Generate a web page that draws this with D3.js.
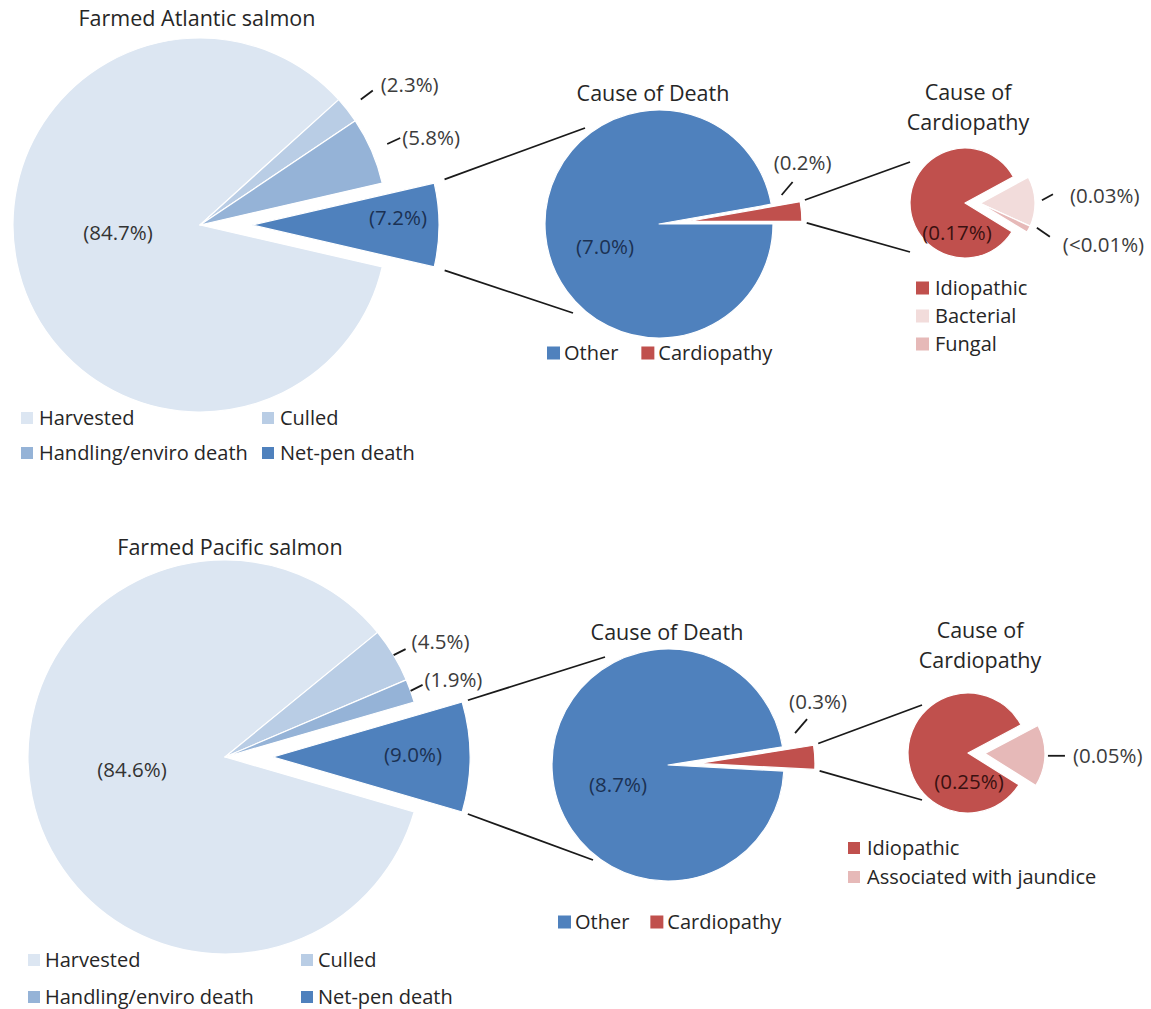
<!DOCTYPE html>
<html>
<head>
<meta charset="utf-8">
<script src="https://cdn.jsdelivr.net/npm/d3@7"></script>
<style>
  html, body { margin: 0; padding: 0; background: #fff; }
  svg { display: block; font-family: "Open Sans", "Noto Sans", sans-serif; }
</style>
</head>
<body>
<svg id="chart" width="1151" height="1009"></svg>
<script>
// ---------- data ----------
const atlanticCategories = ["Harvested", "Culled", "Handling/enviro death", "Net-pen death"];
const atlanticValues = [84.7, 2.3, 5.8, 7.2];
const atlanticDeathCategories = ["Other", "Cardiopathy"];
const atlanticDeathValues = [7.0, 0.2];
const atlanticCardioCategories = ["Idiopathic", "Bacterial", "Fungal"];
const atlanticCardioValues = [0.17, 0.03, 0.004];

const pacificCategories = ["Harvested", "Culled", "Handling/enviro death", "Net-pen death"];
const pacificValues = [84.6, 4.5, 1.9, 9.0];
const pacificDeathCategories = ["Other", "Cardiopathy"];
const pacificDeathValues = [8.7, 0.3];
const pacificCardioCategories = ["Idiopathic", "Associated with jaundice"];
const pacificCardioValues = [0.25, 0.05];

// ---------- colours ----------
const fateColors = ["#dce6f2", "#b9cde5", "#95b3d7", "#4f81bd"];
const deathColors = ["#4f81bd", "#c0504d"];
const atlanticCardioColors = ["#c0504d", "#f2dcdb", "#e6b9b8"];
const pacificCardioColors = ["#c0504d", "#e6b9b8"];

const TEXT = "#262626";
const LABEL = "#3c3c3c";
const LINE = "#1a1a1a";

// ---------- layout ----------
const rows = [
  {
    title: "Farmed Atlantic salmon", titlePos: [197, 18],
    fate: {
      categories: atlanticCategories, values: atlanticValues, colors: fateColors, digits: 1,
      cx: 200, cy: 225, r: 187, detached: 1, dir: 90, explode: 52,
      inside: { 0: { off: [-82, 8], color: "#333333" }, 3: { off: [146, -7], color: "#1b3153" } },
      callouts: [
        { i: 1, dist: 17, leader: [12, -9], text: [8, -6] },
        { i: 2, dist: 17, leader: [13, -6], text: [2, 0] }
      ],
      legend: { x: 21, y: 418, cols: 2, colW: 241, rowH: 35, sq: 12, gap: 6 }
    },
    death: {
      categories: atlanticDeathCategories, values: atlanticDeathValues, colors: deathColors, digits: 1,
      cx: 659, cy: 224, r: 114, detached: 1, dir: 85, explode: 29,
      title: ["Cause of Death"], titlePos: [653, 93],
      inside: { 0: { off: [-54, 23], color: "#1b3153" } },
      callouts: [{ i: 1, angle: 76.7, dist: 12, leader: [11, -13], text: [10, -19], anchor: "middle" }],
      legend: { flow: true, x: 547, y: 353, sq: 13, gap: 4, itemGap: 23 }
    },
    cardio: {
      categories: atlanticCardioCategories, values: atlanticCardioValues, colors: atlanticCardioColors, digits: 2,
      cx: 965, cy: 203, r: 55, detached: 2, dir: 91.5, explode: 15,
      title: ["Cause of", "Cardiopathy"], titlePos: [968, 92], titleLineH: 30,
      inside: { 0: { off: [-8, 30], color: "#3a1111" } },
      callouts: [
        { i: 1, dist: 22, leader: [11, -6], text: [17, 2] },
        { i: 2, angle: 109, dist: 21, leader: [13, 9], text: [13, 8] }
      ],
      legend: { x: 916, y: 288, cols: 1, rowH: 28, sq: 13, gap: 6 }
    },
    links: {
      fateToDeath: { gap: 11, ends: [[-74, -96], [-86, 89]] },
      deathToCardio: { gap: 5, ends: [[-55, -41], [-55, 49]] }
    }
  },
  {
    title: "Farmed Pacific salmon", titlePos: [230, 547],
    fate: {
      categories: pacificCategories, values: pacificValues, colors: fateColors, digits: 1,
      cx: 225, cy: 757, r: 197, detached: 1, dir: 90, explode: 48,
      inside: { 0: { off: [-93, 13], color: "#333333" }, 3: { off: [140, -2], color: "#1b3153" } },
      callouts: [
        { i: 1, dist: 0, leader: [12, -6], text: [6, -7] },
        { i: 2, dist: 0, leader: [12, -6], text: [2, -5] }
      ],
      legend: { x: 28, y: 960, cols: 2, colW: 273, rowH: 37, sq: 12, gap: 5 }
    },
    death: {
      categories: pacificDeathCategories, values: pacificDeathValues, colors: deathColors, digits: 1,
      cx: 668, cy: 765, r: 116, detached: 1, dir: 87, explode: 31,
      title: ["Cause of Death"], titlePos: [667, 632],
      inside: { 0: { off: [-50, 20], color: "#1b3153" } },
      callouts: [{ i: 1, angle: 75.9, dist: 15, leader: [12, -14], text: [11, -17], anchor: "middle" }],
      legend: { flow: true, x: 558, y: 922, sq: 13, gap: 4, itemGap: 21 }
    },
    cardio: {
      categories: pacificCardioCategories, values: pacificCardioValues, colors: pacificCardioColors, digits: 2,
      cx: 968, cy: 753, r: 60, detached: 1, dir: 92, explode: 17,
      title: ["Cause of", "Cardiopathy"], titlePos: [980, 630], titleLineH: 30,
      inside: { 0: { off: [1, 29], color: "#3a1111" } },
      callouts: [{ i: 1, dist: 20, leader: [17, 0], text: [8, 0] }],
      legend: { x: 848, y: 848, cols: 1, rowH: 29, sq: 12, gap: 7 }
    },
    links: {
      fateToDeath: { gap: 6, ends: [[-63, -108], [-75, 95]] },
      deathToCardio: { gap: 5, ends: [[-46, -48], [-46, 47]] }
    }
  }
];

const svg = d3.select("#chart");
const rad = deg => deg * Math.PI / 180;
const pctLabel = (v, digits) => v < 0.01 ? "(<0.01%)" : `(${v.toFixed(digits)}%)`;

// Pie with its trailing slices pulled out along direction `dir`
function drawPie(g, p) {
  const n = p.values.length;
  const total = d3.sum(p.values);
  const detSpan = d3.sum(p.values.slice(n - p.detached)) / total * 2 * Math.PI;
  const dir = rad(p.dir);
  const start = dir + detSpan / 2;
  const arcs = d3.pie().sort(null).value(d => d)
    .startAngle(start).endAngle(start + 2 * Math.PI)(p.values);
  const shift = [p.explode * Math.sin(dir), -p.explode * Math.cos(dir)];
  const arc = d3.arc().innerRadius(0).outerRadius(p.r);
  const isDet = i => i >= n - p.detached;

  const pg = g.append("g").attr("transform", `translate(${p.cx},${p.cy})`);
  pg.selectAll("path").data(arcs).join("path")
    .attr("d", arc)
    .attr("fill", (d, i) => p.colors[i])
    .attr("stroke", "#fff")
    .attr("stroke-width", 1.2)
    .attr("stroke-linejoin", "round")
    .attr("transform", (d, i) => isDet(i) ? `translate(${shift[0]},${shift[1]})` : null);

  // labels inside slices
  Object.entries(p.inside).forEach(([k, lab]) => {
    const i = +k;
    const base = isDet(i) ? shift : [0, 0];
    pg.append("text")
      .attr("x", base[0] + lab.off[0])
      .attr("y", base[1] + lab.off[1])
      .attr("dy", "0.35em")
      .attr("text-anchor", "middle")
      .attr("font-size", 20.5)
      .attr("fill", lab.color)
      .text(pctLabel(p.values[i], p.digits));
  });

  // labels outside slices, with short leader lines
  p.callouts.forEach(c => {
    const a = c.angle !== undefined ? rad(c.angle) : (arcs[c.i].startAngle + arcs[c.i].endAngle) / 2;
    const d = p.r + c.dist;
    const s = [d * Math.sin(a), -d * Math.cos(a)];
    const e = [s[0] + c.leader[0], s[1] + c.leader[1]];
    pg.append("line")
      .attr("x1", s[0]).attr("y1", s[1]).attr("x2", e[0]).attr("y2", e[1])
      .attr("stroke", LINE).attr("stroke-width", 1.8);
    pg.append("text")
      .attr("x", e[0] + c.text[0])
      .attr("y", e[1] + c.text[1])
      .attr("dy", "0.35em")
      .attr("text-anchor", c.anchor || "start")
      .attr("font-size", 20.5)
      .attr("fill", LABEL)
      .text(pctLabel(p.values[c.i], p.digits));
  });

  const a0 = arcs[n - p.detached].startAngle;
  const a1 = arcs[n - 1].endAngle;
  const corner = a => [p.cx + shift[0] + p.r * Math.sin(a), p.cy + shift[1] - p.r * Math.cos(a)];
  return { corners: [corner(a0), corner(a1)] };
}

function drawTitle(g, lines, pos, lineH) {
  lines.forEach((t, k) => {
    g.append("text")
      .attr("x", pos[0]).attr("y", pos[1] + k * (lineH || 0))
      .attr("dy", "0.35em")
      .attr("text-anchor", "middle")
      .attr("font-size", 21.5)
      .attr("fill", TEXT)
      .text(t);
  });
}

function drawLegend(g, p) {
  const L = p.legend;
  const items = p.categories.map((c, i) => ({ label: c, color: p.colors[i] }));
  if (L.flow) {
    let x = L.x;
    items.forEach(it => {
      g.append("rect").attr("x", x).attr("y", L.y - L.sq / 2)
        .attr("width", L.sq).attr("height", L.sq).attr("fill", it.color);
      const t = g.append("text").attr("x", x + L.sq + L.gap).attr("y", L.y)
        .attr("dy", "0.35em").attr("font-size", 20).attr("fill", TEXT).text(it.label);
      x += L.sq + L.gap + t.node().getComputedTextLength() + L.itemGap;
    });
  } else {
    items.forEach((it, i) => {
      const col = i % L.cols, row = Math.floor(i / L.cols);
      const x = L.x + col * (L.colW || 0);
      const y = L.y + row * L.rowH;
      g.append("rect").attr("x", x).attr("y", y - L.sq / 2)
        .attr("width", L.sq).attr("height", L.sq).attr("fill", it.color);
      g.append("text").attr("x", x + L.sq + L.gap).attr("y", y)
        .attr("dy", "0.35em").attr("font-size", 20).attr("fill", TEXT).text(it.label);
    });
  }
}

// series lines joining a pulled-out wedge to the pie that breaks it down
function drawLinks(g, corners, target, link) {
  corners.forEach((c, k) => {
    const end = [target.cx + link.ends[k][0], target.cy + link.ends[k][1]];
    const len = Math.hypot(end[0] - c[0], end[1] - c[1]);
    const ux = (end[0] - c[0]) / len, uy = (end[1] - c[1]) / len;
    g.append("line")
      .attr("x1", c[0] + ux * link.gap).attr("y1", c[1] + uy * link.gap)
      .attr("x2", end[0]).attr("y2", end[1])
      .attr("stroke", LINE).attr("stroke-width", 1.8);
  });
}

rows.forEach(row => {
  const g = svg.append("g");
  drawTitle(g, [row.title], row.titlePos);
  const fate = drawPie(g, row.fate);
  drawLegend(g, row.fate);

  drawTitle(g, row.death.title, row.death.titlePos);
  const death = drawPie(g, row.death);
  drawLegend(g, row.death);

  drawTitle(g, row.cardio.title, row.cardio.titlePos, row.cardio.titleLineH);
  drawPie(g, row.cardio);
  drawLegend(g, row.cardio);

  drawLinks(g, fate.corners, row.death, row.links.fateToDeath);
  drawLinks(g, death.corners, row.cardio, row.links.deathToCardio);
});
</script>
</body>
</html>
